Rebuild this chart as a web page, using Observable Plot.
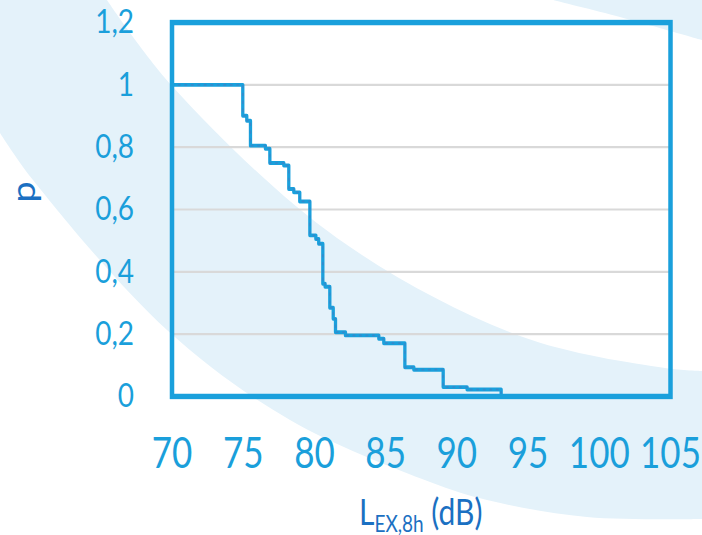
<!DOCTYPE html>
<html>
<head>
<meta charset="utf-8">
<script src="https://cdn.jsdelivr.net/npm/d3@7"></script>
<script src="https://cdn.jsdelivr.net/npm/@observablehq/plot@0.6"></script>
<style>
  html, body { margin: 0; padding: 0; background: #ffffff; }
  #wrap { position: relative; width: 702px; height: 535px; overflow: hidden; }
  #bg { position: absolute; left: 0; top: 0; }
  #chart { position: absolute; left: 0; top: 0; transform-origin: 0 0; }
  #chart svg { display: block; max-width: none; }
</style>
</head>
<body>
<div id="wrap">
  <svg id="bg" width="702" height="535"></svg>
  <div id="chart"></div>
</div>
<script>
// ---- data ----
const levels = [70, 74.97, 75.25, 75.51, 76.56, 76.87, 77.85, 78.2, 78.55, 78.97, 79.68, 80.1, 80.3, 80.59, 80.75, 81.08, 81.32, 81.48, 82.18, 84.52, 84.87, 86.35, 86.98, 89.04, 90.72, 93.11];
const probs  = [1.0, 0.901, 0.885, 0.805, 0.795, 0.749, 0.741, 0.666, 0.655, 0.626, 0.517, 0.505, 0.49, 0.362, 0.352, 0.285, 0.249, 0.206, 0.196, 0.185, 0.171, 0.094, 0.086, 0.030, 0.022, 0.0];
const xTicks = [70, 75, 80, 85, 90, 95, 100, 105];
const yTicks = [0, 0.2, 0.4, 0.6, 0.8, 1, 1.2];
const gridTicks = [0.2, 0.4, 0.6, 0.8, 1];
const yLabel = "p";
const xLabelMain = "L";
const xLabelSub = "EX,8h";
const xLabelUnit = " (dB)";

const data = levels.map((x, i) => ({x, p: probs[i]}));

// ---- decorative watermark background (light blue bands) ----
const bandInner = [[107,0],[173,87],[337,238],[520,336],[665,368],[702,371]];
const bandOuter = [[702,519],[587,517],[487,500],[430,482],[290,420],[167,330],[33,180],[0,133]];
const topRight = [[553,0],[620,17],[702,40]];
const curve = d3.line().curve(d3.curveCatmullRom);
const bandPath = "M0,0L107,0" + curve(bandInner).replace(/^M/, "L") + "L702,519" + curve(bandOuter).replace(/^M/, "L") + "Z";
const trPath = curve(topRight) + "L702,0Z";
const bg = d3.select("#bg");
bg.append("path").attr("d", bandPath).attr("fill", "#e4f2fa");
bg.append("path").attr("d", trPath).attr("fill", "#e4f2fa");

// ---- chart (drawn at reduced height, stretched vertically like the original) ----
const S = 535 / 446;
const blue = "#1aa0dc";
const dark = "#1b70c2";

const plot = Plot.plot({
  width: 702,
  height: 446,
  marginLeft: 171.5,
  marginRight: 32,
  marginTop: 18.3,
  marginBottom: 116,
  style: {background: "transparent", color: "#1a9fdb", fontFamily: "Lato, 'Liberation Sans', sans-serif"},
  x: {domain: [70, 105]},
  y: {domain: [0, 1.2]},
  marks: [
    Plot.ruleY(gridTicks, {stroke: "#d9d9d9", strokeWidth: 1.8}),
    Plot.axisX(xTicks, {tickSize: 0, tickPadding: 35, fontSize: 35, fill: "#1a9fdb", label: null}),
    Plot.axisY(yTicks, {tickSize: 0, tickPadding: 38, fontSize: 28, fill: "#1a9fdb", label: null,
      tickFormat: d => String(d).replace(".", ",")}),
    Plot.line(data, {x: "x", y: "p", curve: "step-after", stroke: blue, strokeWidth: 3.3}),
    Plot.line(data, {x: "x", y: "p", curve: "step-after", stroke: "#4a78c0", strokeWidth: 1.4,
      strokeDasharray: "1.5,5", strokeOpacity: 0.55}),
    Plot.frame({stroke: blue, strokeWidth: 4.5})
  ]
});

const holder = document.getElementById("chart");
holder.style.transform = `scaleY(${S})`;
holder.appendChild(plot);

const svg = d3.select(plot);
const xs = plot.scale("x");
const cx = (xs.apply(70) + xs.apply(105)) / 2;

// y-axis title "p"
svg.append("text")
  .attr("transform", "translate(35,160) rotate(-90)")
  .attr("text-anchor", "middle")
  .attr("fill", dark)
  .attr("font-size", 32)
  .attr("font-family", "Lato, 'Liberation Sans', sans-serif")
  .text(yLabel);

// x-axis title "L EX,8h (dB)" with subscript
const t = svg.append("text")
  .attr("x", cx)
  .attr("y", 438)
  .attr("text-anchor", "middle")
  .attr("fill", dark)
  .attr("font-family", "Lato, 'Liberation Sans', sans-serif")
  .attr("font-size", 30);
t.append("tspan").text(xLabelMain);
t.append("tspan").attr("font-size", 19).attr("dy", 5.5).text(xLabelSub);
t.append("tspan").attr("dy", -5.5).text(xLabelUnit);
</script>
</body>
</html>
